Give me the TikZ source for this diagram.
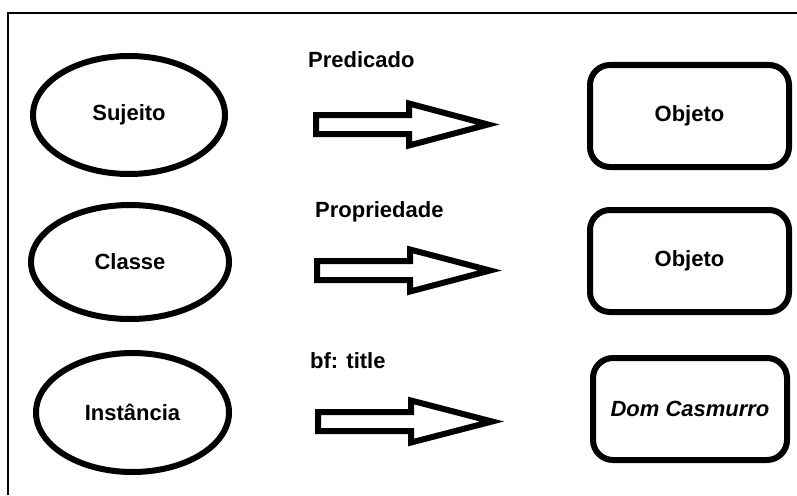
\documentclass[tikz,border=0pt]{standalone}
\usepackage{fontspec}
\setmainfont{Liberation Sans}
\usetikzlibrary{shapes.geometric}
\tikzset{
  oval/.style={ellipse, draw, line width=6pt, inner sep=0pt},
  objbox/.style={rectangle, rounded corners=20pt, draw, line width=6pt, inner sep=0pt,
    minimum width=199pt, minimum height=102pt},
  blockarrow/.style={draw, line width=6pt, line join=miter, fill=white},
  lbl/.style={anchor=base west, inner sep=0pt},
  every node/.style={font=\fontsize{22}{26}\selectfont\bfseries}
}
\newcommand\BlockArr[3]{% left x, center y, tip x
  \draw[blockarrow] (#1,#2-9.5) -- ({#1+93},#2-9.5) -- ({#1+93},#2-21) -- (#3,#2)
    -- ({#1+93},#2+21) -- ({#1+93},#2+9.5) -- (#1,#2+9.5) -- cycle;}
\begin{document}
\begin{tikzpicture}[x=1pt,y=-1pt]
\useasboundingbox (0,0) rectangle (797,495);
\draw[line width=2pt] (8,495) -- (8,13) -- (797,13);
% left ovals
\node[oval, minimum width=192pt, minimum height=118pt] (suj) at (129,115) {Sujeito};
\node[oval, minimum width=198pt, minimum height=114pt] (cla) at (130,262) {Classe};
\node[oval, minimum width=193pt, minimum height=119pt] (ins) at (132.5,412.5) {Instância};
% right boxes
\node[objbox] (ob1) at (689.5,116) {Objeto};
\node[objbox] (ob2) at (689.5,261) {Objeto};
\node[objbox, minimum width=194pt] (ob3) at (690,409) {\itshape Dom Casmurro};
% labels
\node[lbl] (p1) at (308,67) {Predicado};
\node[lbl] (p2) at (315,217) {Propriedade};
\node[lbl] (p3) at (310,368) {bf: title};
% block arrows
\BlockArr{316}{124.5}{488}
\BlockArr{317}{270.5}{490}
\BlockArr{318}{421.5}{492}
\end{tikzpicture}
\end{document}
